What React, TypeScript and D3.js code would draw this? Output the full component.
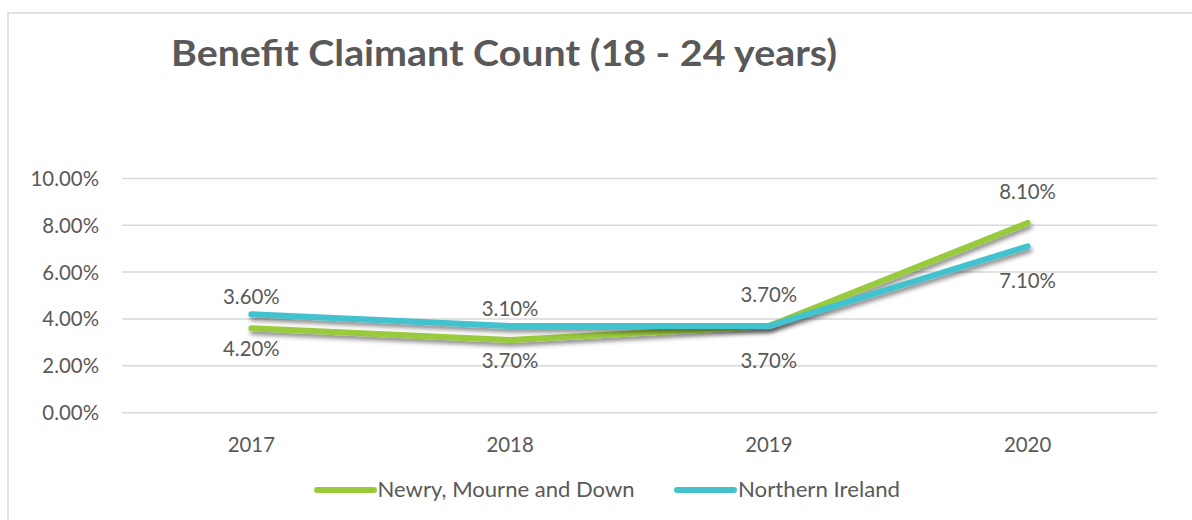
import React from "react";
import * as d3 from "d3";

const title = "Benefit Claimant Count (18 - 24 years)";
const years = ["2017", "2018", "2019", "2020"];
const seriesNames = ["Newry, Mourne and Down", "Northern Ireland"];
const newryValues = [3.6, 3.1, 3.7, 8.1];
const niValues = [4.2, 3.7, 3.7, 7.1];
const yTicks = [0, 2, 4, 6, 8, 10];
const colors = ["#99CA3C", "#43C2CE"];

const W = 1192;
const H = 520;
const FONT = "Lato, 'Open Sans', sans-serif";
const TEXT = "#595959";

export default function App() {
  const x = d3.scalePoint<string>().domain(years).range([122, 1157]).padding(0.5);
  const y = d3.scaleLinear().domain([0, 10]).range([412.7, 178.4]);
  const fmt = (v: number) => d3.format(".2f")(v) + "%";
  const line = d3
    .line<number>()
    .x((_, i) => x(years[i]) as number)
    .y((d) => y(d));

  const series = [
    { name: seriesNames[0], values: newryValues, color: colors[0], above: true },
    { name: seriesNames[1], values: niValues, color: colors[1], above: false },
  ];

  const legend = [
    { x1: 317, x2: 374, tx: 377.6, tl: 257, name: seriesNames[0], color: colors[0] },
    { x1: 677, x2: 734, tx: 738, tl: 162, name: seriesNames[1], color: colors[1] },
  ];

  return (
    <svg
      width={W}
      height={H}
      style={{ position: "absolute", left: 0, top: 0, display: "block", background: "#fff" }}
      fontFamily={FONT}
    >
      <defs>
        <filter id="shadow" x="-10%" y="-50%" width="120%" height="200%">
          <feDropShadow dx="1.5" dy="3.5" stdDeviation="2.2" floodColor="#000" floodOpacity="0.45" />
        </filter>
      </defs>
      <rect x={0} y={0} width={W} height={H} fill="#fff" />
      <rect x={8} y={13} width={W + 50} height={H + 50} fill="none" stroke="#D9D9D9" strokeWidth={1.5} />

      <text
        x={171}
        y={66}
        fontSize={36}
        fontWeight={700}
        fill={TEXT}
        textLength={666}
        lengthAdjust="spacingAndGlyphs"
      >
        {title}
      </text>

      {yTicks.map((t) => (
        <g key={t}>
          <line x1={122} x2={1157} y1={y(t)} y2={y(t)} stroke="#D9D9D9" strokeWidth={1.5} />
          <text x={99} y={y(t) + 7.5} textAnchor="end" fontSize={20.4} fill={TEXT}>
            {fmt(t)}
          </text>
        </g>
      ))}

      {years.map((yr) => (
        <text key={yr} x={x(yr)} y={451.7} textAnchor="middle" fontSize={20.4} fill={TEXT}>
          {yr}
        </text>
      ))}

      {series.map((s) => (
        <path
          key={s.name}
          d={line(s.values) as string}
          fill="none"
          stroke={s.color}
          strokeWidth={6}
          strokeLinecap="round"
          strokeLinejoin="round"
          filter="url(#shadow)"
        />
      ))}

      {series.map((s) =>
        s.values.map((v, i) => (
          <text
            key={s.name + i}
            x={x(years[i])}
            y={s.above ? y(v) - 24.4 : y(v) + 41.7}
            textAnchor="middle"
            fontSize={20.4}
            fill={TEXT}
          >
            {fmt(v)}
          </text>
        ))
      )}

      {legend.map((l) => (
        <g key={l.name}>
          <line x1={l.x1} x2={l.x2} y1={490} y2={490} stroke={l.color} strokeWidth={6} strokeLinecap="round" />
          <text
            x={l.tx}
            y={496.5}
            fontSize={20.4}
            fill={TEXT}
            textLength={l.tl}
            lengthAdjust="spacingAndGlyphs"
          >
            {l.name}
          </text>
        </g>
      ))}
    </svg>
  );
}
